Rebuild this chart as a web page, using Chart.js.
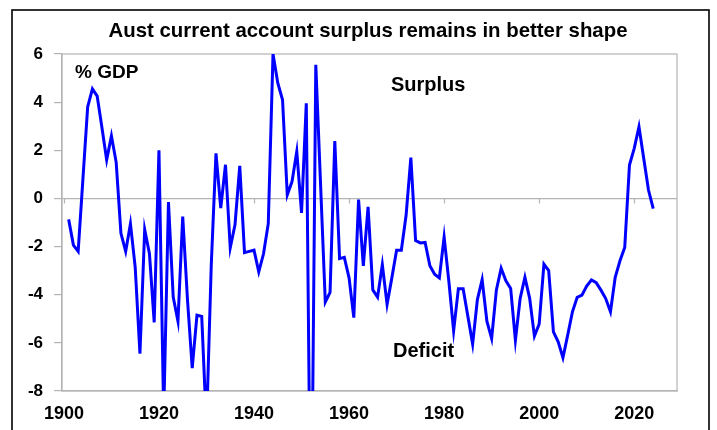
<!DOCTYPE html>
<html>
<head>
<meta charset="utf-8">
<script src="https://cdn.jsdelivr.net/npm/chart.js@4.4.1/dist/chart.umd.min.js"></script>
<style>
  html, body { margin: 0; padding: 0; background: #ffffff; }
  #wrap { width: 717px; height: 430px; position: relative; }
</style>
</head>
<body>
<div id="wrap"><canvas id="c" width="717" height="430"></canvas></div>
<script>
// ---- Data ----
const years = Array.from({length: 124}, (_, i) => 1901 + i); // 1901..2024
const surplusPctGDP = [
  -0.87, -1.94, -2.2, 0.8, 3.8, 4.55, 4.25, 2.95, 1.6, 2.6,      // 1901-1910
  1.5, -1.45, -2.2, -1.05, -2.85, -6.45, -1.3, -2.3, -5.15, 2.0,  // 1911-1920
  -9.0, -0.15, -4.1, -5.1, -0.75, -4.2, -7.05, -4.85, -4.9, -9.5, // 1921-1930
  -2.8, 1.87, -0.4, 1.4, -2.05, -1.1, 1.35, -2.25, -2.2, -2.15,   // 1931-1940
  -3.05, -2.3, -1.05, 6.0, 4.8, 4.1, 0.15, 0.7, 1.95, -0.6,       // 1941-1950
  3.95, -16.0, 5.55, 0.6, -4.3, -3.9, 2.38, -2.5, -2.45, -3.3,    // 1951-1960
  -4.95, -0.05, -2.8, -0.35, -3.8, -4.1, -2.75, -4.4, -3.3, -2.15,// 1961-1970
  -2.15, -0.7, 1.7, -1.75, -1.85, -1.83, -2.8, -3.15, -3.3, -1.6, // 1971-1980
  -3.45, -5.5, -3.75, -3.75, -4.9, -6.05, -4.2, -3.37, -5.1, -5.82, // 1981-1990
  -3.8, -2.9, -3.42, -3.74, -5.89, -4.15, -3.28, -4.15, -5.72, -5.22, // 1991-2000
  -2.73, -3.0, -5.54, -5.96, -6.62, -5.68, -4.71, -4.11, -4.02, -3.64, // 2001-2010
  -3.39, -3.5, -3.81, -4.16, -4.71, -3.28, -2.59, -2.04, 1.39, 2.08,   // 2011-2020
  2.98, 1.66, 0.35, -0.42                                             // 2021-2024
];
const xTickYears = [1900, 1920, 1940, 1960, 1980, 2000, 2020];
const yTicks = [-8, -6, -4, -2, 0, 2, 4, 6];
const titleText = 'Aust current account surplus remains in better shape';
const unitLabel = '% GDP';
const surplusLabel = 'Surplus';
const deficitLabel = 'Deficit';

const FONT = '"Liberation Sans", Arial, Helvetica, sans-serif';
const GRAY = '#b4b4b4';

const decorPlugin = {
  id: 'decor',
  beforeDraw(chart) {
    const ctx = chart.ctx;
    ctx.save();
    ctx.fillStyle = '#ffffff';
    ctx.fillRect(0, 0, chart.width, chart.height);
    // outer frame
    ctx.strokeStyle = '#000000';
    ctx.lineWidth = 1.6;
    ctx.strokeRect(12, 10, 697, 440);
    // title
    ctx.fillStyle = '#000000';
    ctx.font = 'bold 20.4px ' + FONT;
    ctx.textAlign = 'center';
    ctx.textBaseline = 'alphabetic';
    ctx.fillText(titleText, 368, 37);
    ctx.restore();
  },
  beforeDatasetsDraw(chart) {
    const ctx = chart.ctx;
    const a = chart.chartArea;
    const xs = chart.scales.x, ys = chart.scales.y;
    ctx.save();
    ctx.strokeStyle = GRAY;
    ctx.lineWidth = 1.2;
    ctx.strokeRect(a.left, a.top, a.right - a.left, a.bottom - a.top);
    // small tick marks on the zero line
    const y0 = ys.getPixelForValue(0);
    ctx.beginPath();
    xTickYears.forEach(v => {
      const px = Math.round(xs.getPixelForValue(v)) + 0.5;
      ctx.moveTo(px, y0);
      ctx.lineTo(px, y0 + 5);
    });
    ctx.stroke();
    // annotations
    ctx.fillStyle = '#000000';
    ctx.textAlign = 'left';
    ctx.textBaseline = 'alphabetic';
    ctx.font = 'bold 19px ' + FONT;
    ctx.fillText(unitLabel, 75, 78);
    ctx.font = 'bold 20px ' + FONT;
    ctx.fillText(surplusLabel, 391, 91);
    ctx.fillText(deficitLabel, 393, 357);
    ctx.restore();
  }
};

new Chart(document.getElementById('c'), {
  type: 'line',
  data: {
    datasets: [{
      data: years.map((yr, i) => ({x: yr, y: surplusPctGDP[i]})),
      borderColor: '#0000ff',
      borderWidth: 3,
      pointRadius: 0,
      tension: 0,
      fill: false,
      clip: 0
    }]
  },
  options: {
    responsive: false,
    animation: false,
    devicePixelRatio: 1,
    layout: { padding: { left: 0, right: 40, top: 54, bottom: 0 } },
    plugins: { legend: { display: false }, tooltip: { enabled: false }, title: { display: false } },
    scales: {
      x: {
        type: 'linear',
        min: 1899.6,
        max: 2029,
        afterBuildTicks(scale) { scale.ticks = xTickYears.map(v => ({value: v})); },
        afterFit(scale) { scale.height = 39; },
        grid: { display: false, drawTicks: false },
        border: { display: true, color: GRAY, width: 1.2 },
        ticks: {
          color: '#000000',
          font: { family: FONT, size: 18, weight: 'bold' },
          padding: 12,
          maxRotation: 0,
          autoSkip: false,
          callback: v => String(v)
        }
      },
      y: {
        min: -8,
        max: 6,
        afterBuildTicks(scale) { scale.ticks = yTicks.map(v => ({value: v})); },
        afterFit(scale) { scale.width = 62; },
        grid: {
          drawTicks: true,
          tickLength: 8,
          tickColor: GRAY,
          lineWidth: 1.2,
          color: c => (c.tick && c.tick.value === 0) ? GRAY : 'rgba(0,0,0,0)'
        },
        border: { display: true, color: GRAY, width: 1.2 },
        ticks: {
          color: '#000000',
          font: { family: FONT, size: 17, weight: 'bold' },
          padding: 11,
          callback: v => String(v)
        }
      }
    }
  },
  plugins: [decorPlugin]
});
</script>
</body>
</html>
